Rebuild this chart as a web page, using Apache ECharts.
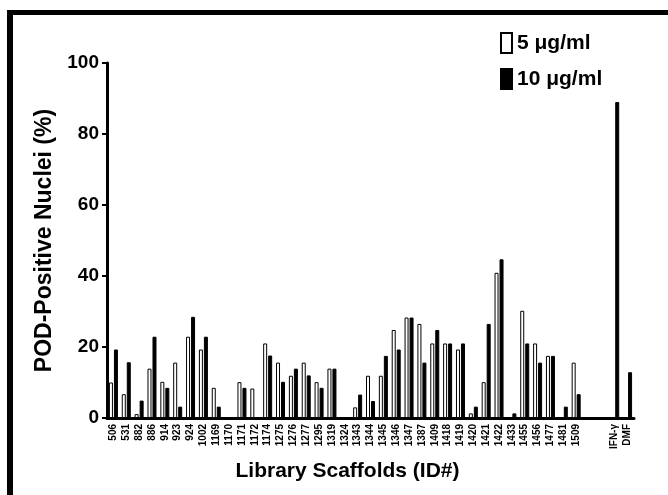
<!DOCTYPE html>
<html>
<head>
<meta charset="utf-8">
<script src="https://cdn.jsdelivr.net/npm/echarts@6/dist/echarts.min.js"></script>
<style>
  html, body { margin: 0; padding: 0; background: #fff; }
  #chart { width: 668px; height: 495px; }
</style>
</head>
<body>
<div id="chart"></div>
<script>
  // scaffold IDs (two empty slots before the controls)
  var categories = ['506','531','882','886','914','923','924','1002','1169','1170','1171','1172','1174','1275','1276','1277','1295','1319','1324','1343','1344','1345','1346','1347','1387','1409','1418','1419','1420','1421','1422','1433','1455','1456','1477','1481','1509',' ','  ','IFN-γ','DMF'];
  // 5 ug/ml
  var dose5 = [10, 6.7, 1.1, 13.9, 10.2, 15.6, 22.9, 19.3, 8.5, null, 10.1, 8.3, 21, 15.6, 11.9, 15.6, 10.1, 13.9, null, 3, 11.9, 11.9, 24.8, 28.3, 26.5, 21, 21, 19.3, 1.3, 10.1, 40.9, null, 30.2, 21, 17.5, null, 15.6, null, null, null, null];
  // 10 ug/ml
  var dose10 = [19.3, 15.7, 4.9, 22.9, 8.5, 3.2, 28.5, 22.9, 3.2, null, 8.5, null, 17.6, 10.2, 13.9, 12, 8.5, 13.9, null, 6.6, 4.8, 17.5, 19.3, 28.3, 15.6, 24.8, 21, 21, 3.2, 26.5, 44.7, 1.3, 21, 15.6, 17.5, 3.2, 6.7, null, null, 89, 12.9];
  var yTicks = [0, 20, 40, 60, 80, 100];

  var font = 'Liberation Sans, Arial, sans-serif';
  var chart = echarts.init(document.getElementById('chart'));

  var option = {
    backgroundColor: '#fff',
    animation: false,
    textStyle: { fontFamily: font, color: '#000' },
    grid: { left: 107, right: 34, top: 63, bottom: 77 },
    legend: {
      orient: 'vertical',
      left: 495,
      top: 27,
      itemWidth: 11,
      itemHeight: 20,
      itemGap: 14,
      icon: 'rect',
      textStyle: { fontFamily: font, fontSize: 21, fontWeight: 'bold', color: '#000' },
      data: ['5 μg/ml', '10 μg/ml']
    },
    xAxis: {
      type: 'category',
      data: categories,
      name: 'Library Scaffolds (ID#)',
      nameLocation: 'middle',
      nameGap: 43,
      nameTextStyle: { fontFamily: font, fontSize: 21, fontWeight: 'bold', color: '#000', padding: [0, 46, 0, 0] },
      axisLine: { lineStyle: { color: '#000', width: 3 } },
      axisTick: { alignWithLabel: true, length: 5, lineStyle: { color: '#000', width: 2 } },
      axisLabel: {
        interval: 0,
        rotate: 90,
        margin: 6,
        fontFamily: font,
        fontSize: 10,
        fontWeight: 'bold',
        color: '#000'
      }
    },
    yAxis: {
      type: 'value',
      min: 0,
      max: 100,
      interval: 20,
      name: 'POD-Positive Nuclei (%)',
      nameLocation: 'middle',
      nameGap: 49,
      nameTextStyle: { fontFamily: font, fontSize: 23, fontWeight: 'bold', color: '#000' },
      splitLine: { show: false },
      axisLine: { show: true, lineStyle: { color: '#000', width: 3 } },
      axisTick: { show: true, length: 5, lineStyle: { color: '#000', width: 2 } },
      axisLabel: {
        margin: 8,
        fontFamily: font,
        fontSize: 19,
        fontWeight: 'bold',
        color: '#000',
        formatter: function (v) { return yTicks.indexOf(v) >= 0 ? v : ''; }
      }
    },
    series: [
      {
        name: '5 μg/ml',
        type: 'bar',
        data: dose5,
        barWidth: 4,
        barGap: '25%',
        itemStyle: { color: '#fff', borderColor: '#000', borderWidth: 1 }
      },
      {
        name: '10 μg/ml',
        type: 'bar',
        data: dose10,
        barWidth: 4,
        itemStyle: { color: '#000', borderColor: '#000', borderWidth: 1 }
      }
    ],
    graphic: [
      // frame round the figure
      { type: 'line', shape: { x1: 10, y1: 10, x2: 10, y2: 495 }, style: { stroke: '#000', lineWidth: 6 } },
      { type: 'line', shape: { x1: 7, y1: 12.5, x2: 668, y2: 12.5 }, style: { stroke: '#000', lineWidth: 5 } }
    ]
  };

  chart.setOption(option);
</script>
</body>
</html>
